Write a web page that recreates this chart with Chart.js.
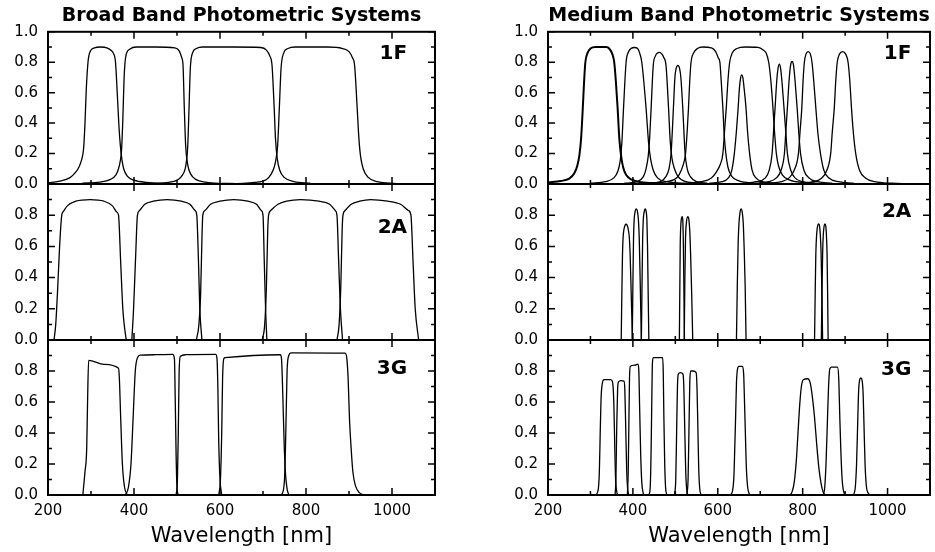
<!DOCTYPE html>
<html>
<head>
<meta charset="utf-8">
<script src="https://cdn.jsdelivr.net/npm/chart.js@4.4.1/dist/chart.umd.min.js"></script>
<style>
  html, body { margin: 0; padding: 0; background: #fff; }
  body { width: 935px; height: 552px; position: relative; overflow: hidden; }
  .panel { position: absolute; }
</style>
</head>
<body>
<script>
// Filter transmission curves: [wavelength nm, transmission]

const broad1F = [
  [[200,0.008],[230,0.02],[250,0.04],[262,0.07],[270,0.1],[276,0.14],[280,0.18],[283,0.24],[286,0.4],[289,0.62],[293,0.8],[298,0.87],[308,0.895],[322,0.9],[337,0.895],[348,0.875],[352,0.86],[357,0.8],[361,0.6],[365,0.38],[368,0.26],[371,0.18],[376,0.1],[385,0.05],[400,0.025],[430,0.01],[480,0.003]],
  [[280,0.005],[320,0.012],[345,0.03],[358,0.06],[364,0.1],[368,0.15],[371,0.22],[374,0.42],[377,0.7],[381,0.84],[390,0.885],[405,0.9],[450,0.9],[495,0.895],[505,0.875],[511,0.83],[514,0.78],[517,0.5],[520,0.26],[523,0.16],[528,0.09],[537,0.045],[552,0.02],[580,0.008],[640,0.002]],
  [[440,0.003],[480,0.01],[503,0.03],[513,0.06],[519,0.1],[522,0.15],[525,0.25],[528,0.5],[531,0.76],[536,0.86],[545,0.89],[560,0.9],[630,0.9],[695,0.897],[708,0.88],[716,0.84],[721,0.78],[726,0.5],[729,0.3],[733,0.17],[739,0.09],[750,0.042],[772,0.016],[810,0.005]],
  [[640,0.003],[680,0.01],[708,0.03],[719,0.065],[726,0.11],[730,0.16],[734,0.25],[738,0.5],[742,0.76],[748,0.86],[758,0.89],[775,0.9],[850,0.9],[885,0.89],[900,0.87],[908,0.83],[913,0.78],[919,0.5],[923,0.3],[927,0.18],[933,0.1],[944,0.045],[966,0.015],[1010,0.003]]
]

const broad2A = [
  [[214,0],[218,0.1],[222,0.3],[227,0.6],[232,0.8],[236,0.825],[245,0.86],[265,0.89],[298,0.9],[330,0.89],[350,0.86],[360,0.82],[364,0.8],[369,0.5],[374,0.2],[378,0.08],[382,0]],
  [[395,0],[399,0.2],[404,0.55],[408,0.8],[413,0.83],[425,0.87],[445,0.89],[477,0.9],[510,0.89],[530,0.87],[542,0.83],[546,0.8],[550,0.5],[553,0.2],[558,0]],
  [[545,0],[551,0.1],[555,0.3],[558,0.65],[560,0.8],[565,0.83],[578,0.87],[600,0.89],[632,0.9],[665,0.89],[685,0.87],[696,0.83],[700,0.8],[703,0.5],[706,0.2],[709,0]],
  [[698,0],[704,0.1],[708,0.35],[711,0.7],[713,0.8],[718,0.83],[735,0.87],[755,0.89],[787,0.9],[830,0.89],[855,0.87],[868,0.83],[872,0.8],[876,0.5],[880,0.2],[885,0]],
  [[872,0],[877,0.1],[881,0.35],[884,0.7],[886,0.8],[891,0.83],[905,0.87],[925,0.89],[950,0.9],[990,0.89],[1020,0.87],[1038,0.83],[1044,0.8],[1049,0.5],[1054,0.2],[1062,0]]
]

const broad3G = [
  [[281,0],[286,0.15],[290,0.3],[292,0.6],[294.5,0.868],[330,0.843],[364,0.818],[366,0.75],[369,0.5],[373,0.2],[378,0.05],[385,0]],
  [[380,0],[387,0.05],[393,0.2],[398,0.5],[403,0.8],[408,0.885],[415,0.902],[450,0.905],[490,0.907],[494,0.88],[496,0.6],[498,0.25],[500,0.05],[503,0]],
  [[498,0],[501,0.1],[503,0.4],[505,0.8],[508,0.895],[520,0.905],[590,0.907],[593,0.88],[595,0.7],[597,0.35],[600,0.1],[604,0]],
  [[597,0],[601,0.1],[604,0.4],[606,0.75],[609,0.88],[612,0.886],[740,0.905],[743,0.88],[746,0.65],[749,0.35],[752,0.15],[756,0.04],[760,0]],
  [[744,0],[750,0.1],[753,0.4],[756,0.8],[760,0.9],[765,0.917],[891,0.915],[895,0.88],[898,0.75],[901,0.5],[905,0.3],[909,0.15],[915,0.06],[924,0.015],[934,0]]
]

const medium1F = [
  [[200,0.01],[230,0.02],[250,0.035],[262,0.07],[269,0.12],[274,0.19],[278,0.3],[282,0.5],[285,0.67],[288,0.8],[293,0.86],[300,0.89],[312,0.9],[338,0.9],[347,0.88],[352,0.85],[356,0.8],[360,0.67],[364,0.5],[368,0.3],[372,0.19],[377,0.11],[384,0.06],[396,0.03],[420,0.012],[460,0.004]],
  [[300,0.005],[335,0.015],[355,0.04],[364,0.08],[370,0.15],[374,0.27],[378,0.5],[384,0.8],[390,0.87],[397,0.893],[404,0.897],[411,0.89],[416,0.86],[421,0.8],[431,0.5],[437,0.27],[442,0.16],[448,0.09],[458,0.04],[480,0.015],[520,0.005]],
  [[380,0.005],[410,0.015],[425,0.05],[431,0.1],[436,0.18],[439,0.28],[443,0.5],[448,0.78],[453,0.84],[458,0.86],[463,0.865],[468,0.855],[473,0.83],[478,0.78],[484,0.5],[488,0.28],[492,0.17],[498,0.1],[506,0.05],[525,0.015],[560,0.005]],
  [[440,0.005],[465,0.015],[478,0.05],[485,0.1],[490,0.2],[495.5,0.5],[499,0.7],[502,0.76],[506,0.78],[510,0.76],[513,0.7],[517.5,0.5],[523,0.2],[528,0.1],[535,0.05],[550,0.015],[575,0.005]],
  [[440,0.005],[480,0.015],[505,0.045],[514,0.09],[520,0.14],[524,0.2],[528,0.35],[531,0.5],[534,0.68],[537,0.8],[543,0.86],[552,0.89],[565,0.9],[585,0.895],[595,0.87],[601,0.83],[605,0.8],[608,0.68],[612,0.5],[615,0.33],[619,0.2],[624,0.11],[633,0.05],[650,0.02],[690,0.005]],
  [[520,0.005],[560,0.015],[585,0.04],[597,0.08],[606,0.13],[612,0.2],[616,0.35],[620,0.5],[624,0.68],[628,0.8],[634,0.86],[645,0.89],[665,0.9],[695,0.897],[707,0.88],[714,0.86],[720,0.8],[725,0.68],[730,0.5],[734,0.33],[738,0.2],[743,0.12],[752,0.06],[770,0.025],[800,0.01],[850,0.003]],
  [[580,0.005],[610,0.015],[625,0.04],[633,0.09],[639,0.2],[644,0.35],[648,0.5],[651,0.63],[654,0.7],[656.5,0.717],[659,0.7],[662,0.63],[666.5,0.5],[670,0.35],[675,0.2],[681,0.09],[690,0.04],[705,0.015],[735,0.005]],
  [[660,0.005],[690,0.015],[712,0.04],[721,0.09],[728,0.2],[731.5,0.35],[735,0.5],[739,0.68],[742,0.76],[745,0.787],[748,0.76],[751,0.68],[756,0.5],[760,0.35],[764,0.2],[772,0.09],[782,0.04],[800,0.015],[830,0.005]],
  [[690,0.005],[720,0.015],[738,0.04],[749,0.09],[757,0.2],[760,0.33],[764,0.5],[768,0.68],[771.5,0.78],[775,0.805],[778.5,0.78],[782,0.68],[787,0.5],[791,0.33],[795,0.2],[803,0.09],[815,0.04],[835,0.015],[870,0.005]],
  [[720,0.005],[750,0.015],[768,0.04],[780,0.09],[790,0.2],[794,0.35],[798,0.5],[801,0.68],[804,0.8],[808,0.855],[813,0.87],[818,0.855],[822,0.8],[826,0.68],[831,0.5],[836,0.33],[842,0.2],[850,0.09],[862,0.04],[885,0.015],[920,0.005]],
  [[790,0.005],[825,0.015],[845,0.04],[857,0.09],[866,0.2],[870,0.35],[874.5,0.5],[878,0.68],[881.5,0.8],[887,0.855],[894,0.87],[901,0.855],[907,0.8],[911,0.68],[915,0.5],[919,0.35],[925,0.2],[934,0.09],[948,0.04],[970,0.015],[1010,0.005],[1100,0]]
]

const medium2A = [
  [[372.5,0],[374,0.3],[375.5,0.55],[377,0.66],[379,0.71],[381.5,0.735],[384,0.742],[386.5,0.735],[389,0.71],[391.5,0.66],[393.5,0.55],[396,0.3],[399,0]],
  [[398.5,0],[400,0.35],[401.5,0.65],[403,0.77],[405,0.82],[408,0.84],[411,0.82],[413,0.77],[415,0.65],[417,0.4],[420,0]],
  [[420,0],[421.5,0.35],[423,0.65],[424.5,0.77],[426.5,0.82],[429,0.84],[431.5,0.82],[433,0.77],[434.5,0.6],[436,0.3],[437.6,0]],
  [[509.5,0],[510.5,0.3],[511.5,0.6],[513,0.74],[514.5,0.78],[516,0.79],[517.5,0.77],[519,0.6],[520.3,0.3],[521.5,0]],
  [[521,0],[522.5,0.4],[524,0.65],[526,0.75],[529.4,0.79],[532,0.77],[534,0.7],[536,0.55],[538.5,0.3],[541,0]],
  [[644,0],[646,0.35],[648,0.62],[650,0.75],[652.5,0.82],[655,0.84],[657.5,0.82],[660,0.75],[662,0.6],[664.5,0.35],[666.6,0]],
  [[828,0],[829.5,0.3],[831,0.55],[833,0.68],[835.5,0.735],[837.6,0.745],[839.5,0.735],[841.5,0.68],[843.5,0.55],[845.3,0.3],[847,0]],
  [[844,0],[845.5,0.3],[847,0.55],[848.5,0.67],[850.5,0.73],[852.5,0.745],[854.5,0.73],[856,0.67],[857.5,0.55],[858.8,0.3],[860,0]]
]

const medium3G = [
  [[312,0],[318,0.03],[321,0.15],[323,0.4],[325,0.62],[328,0.72],[332,0.745],[348,0.745],[352,0.73],[355,0.6],[357,0.35],[359,0.12],[362,0.02],[365,0]],
  [[358,0],[360,0.1],[362,0.45],[364,0.68],[366,0.73],[372,0.738],[379,0.735],[381,0.68],[383,0.45],[385.5,0.15],[388,0.03],[391,0]],
  [[387,0],[389,0.15],[390.5,0.45],[392,0.75],[394,0.83],[405,0.838],[412,0.845],[414,0.8],[416,0.55],[418.5,0.25],[421,0.08],[425,0]],
  [[438,0],[441,0.06],[443,0.3],[444.5,0.6],[446,0.85],[448,0.886],[470,0.886],[471.5,0.8],[473,0.5],[475,0.2],[477,0.05],[480,0]],
  [[498,0],[501,0.1],[503,0.4],[505,0.7],[507,0.78],[512,0.79],[518,0.78],[520,0.7],[522,0.45],[524.5,0.15],[527,0.03],[530,0]],
  [[527,0],[530,0.1],[532,0.4],[534,0.72],[536,0.8],[542,0.8],[549,0.79],[551,0.7],[553,0.45],[555,0.18],[557.5,0.04],[561,0]],
  [[630,0],[635,0.03],[638,0.12],[640,0.3],[642,0.5],[644,0.72],[647,0.82],[650,0.83],[658,0.83],[661,0.78],[663,0.6],[665,0.4],[667,0.2],[670,0.06],[675,0]],
  [[770,0],[775,0.02],[780,0.08],[785,0.22],[789,0.4],[793,0.58],[797,0.7],[802,0.745],[812,0.75],[818,0.72],[823,0.63],[828,0.5],[833,0.33],[838,0.18],[843,0.08],[848,0.02],[853,0]],
  [[849,0],[852,0.05],[855,0.2],[858,0.45],[861,0.7],[864,0.815],[868,0.825],[882,0.825],[885,0.75],[887.5,0.5],[890,0.28],[893,0.1],[896,0.03],[900,0]],
  [[920,0],[924,0.05],[927,0.2],[929.5,0.45],[931.5,0.65],[934,0.74],[937,0.755],[940,0.74],[942.5,0.65],[944.5,0.45],[947,0.2],[950,0.06],[955,0.01],[958,0]]
]

const columnTitles = ['Broad Band Photometric Systems', 'Medium Band Photometric Systems']
const panelLabels = ['1F', '2A', '3G']
// where each panel label sits: [wavelength of right edge, transmission of centre]
const labelAnchors = [
  [[1035, 0.857], [1035, 0.72], [1035, 0.815]],
  [[1056, 0.858], [1056, 0.82], [1056, 0.81]]
]
const xRange = [200, 1100]
const yRange = [0, 1]

// page layout
const cols = [
  { left: 0, width: 448, axis: 48, padRight: 13 },
  { left: 490, width: 445, axis: 58, padRight: 5 }
]
const rows = [
  { top: 0, height: 190, padTop: 0, padBottom: 6 },
  { top: 178, height: 168, padTop: 6, padBottom: 6 },
  { top: 334, height: 218, padTop: 6, padBottom: 0 }
]
const panelData = [
  [broad1F, broad2A, broad3G],
  [medium1F, medium2A, medium3G]
]

Chart.defaults.font.family = '"DejaVu Sans", sans-serif'
Chart.defaults.color = '#000'

// frame, inward ticks and the panel tag
const framePlugin = {
  id: 'frame',
  afterDatasetsDraw(chart, args, opts) {
    const { ctx, chartArea: a } = chart
    const xs = chart.scales.x
    const ys = chart.scales.y
    ctx.save()
    ctx.strokeStyle = '#000'
    ctx.lineWidth = 1.5
    ctx.beginPath()
    for (let v = xRange[0]; v <= xRange[1]; v += 100) {
      const px = xs.getPixelForValue(v)
      const len = v % 200 === 0 ? 7 : 4
      ctx.moveTo(px, a.top)
      ctx.lineTo(px, a.top + len)
      ctx.moveTo(px, a.bottom)
      ctx.lineTo(px, a.bottom - len)
    }
    for (let i = 0; i <= 10; i++) {
      const py = ys.getPixelForValue(i / 10)
      const len = i % 2 === 0 ? 7 : 4
      ctx.moveTo(a.left, py)
      ctx.lineTo(a.left + len, py)
      ctx.moveTo(a.right, py)
      ctx.lineTo(a.right - len, py)
    }
    ctx.stroke()
    ctx.lineWidth = 2
    ctx.strokeRect(a.left, a.top, a.right - a.left, a.bottom - a.top)

    ctx.fillStyle = '#000'
    ctx.font = 'bold 20px "DejaVu Sans"'
    ctx.textAlign = 'right'
    ctx.textBaseline = 'middle'
    ctx.fillText(opts.label, xs.getPixelForValue(opts.at[0]), ys.getPixelForValue(opts.at[1]))
    ctx.restore()
  }
}

cols.forEach((col, c) => {
  rows.forEach((row, r) => {
    const div = document.createElement('div')
    div.className = 'panel'
    div.style.left = col.left + 'px'
    div.style.top = row.top + 'px'
    div.style.width = col.width + 'px'
    div.style.height = row.height + 'px'
    const canvas = document.createElement('canvas')
    div.appendChild(canvas)
    document.body.appendChild(div)

    const isBottom = r === rows.length - 1
    const datasets = panelData[c][r].map((pts, i) => ({
      data: pts,
      borderColor: '#000',
      borderWidth: c === 1 && r === 0 && i === 0 ? 2 : 1.3,
      pointRadius: 0,
      fill: false,
      cubicInterpolationMode: 'monotone'
    }))

    new Chart(canvas, {
      type: 'line',
      data: { datasets },
      options: {
        responsive: true,
        maintainAspectRatio: false,
        animation: false,
        events: [],
        layout: { padding: { top: row.padTop, bottom: row.padBottom, left: 0, right: col.padRight } },
        plugins: {
          legend: { display: false },
          tooltip: { enabled: false },
          title: {
            display: r === 0,
            text: columnTitles[c],
            fullSize: false,
            color: '#000',
            font: { size: 19, weight: 'bold' },
            padding: { top: 5, bottom: 4 }
          },
          frame: { label: panelLabels[r], at: labelAnchors[c][r] }
        },
        scales: {
          x: {
            type: 'linear',
            min: xRange[0],
            max: xRange[1],
            display: isBottom,
            grid: { display: false, drawTicks: false },
            border: { display: false },
            ticks: {
              stepSize: 200,
              includeBounds: false,
              padding: 7,
              maxRotation: 0,
              autoSkip: false,
              font: { size: 15 },
              color: '#000',
              callback: (v) => String(v)
            },
            title: { display: true, text: 'Wavelength [nm]', color: '#000', font: { size: 21 }, padding: { top: 0, bottom: 3 } },
            afterFit: (s) => { s.height = isBottom ? 57 : 0 }
          },
          y: {
            min: yRange[0],
            max: yRange[1],
            grid: { display: false, drawTicks: false },
            border: { display: false },
            ticks: {
              stepSize: 0.2,
              autoSkip: false,
              padding: 10,
              font: { size: 15 },
              color: '#000',
              callback: (v) => (r === 0 || v < 0.99 ? Number(v).toFixed(1) : '')
            },
            afterFit: (s) => {
              s.width = col.axis
              s.paddingTop = 0
              s.paddingBottom = 0
            }
          }
        }
      },
      plugins: [framePlugin]
    })
  })
})
</script>
</body>
</html>
